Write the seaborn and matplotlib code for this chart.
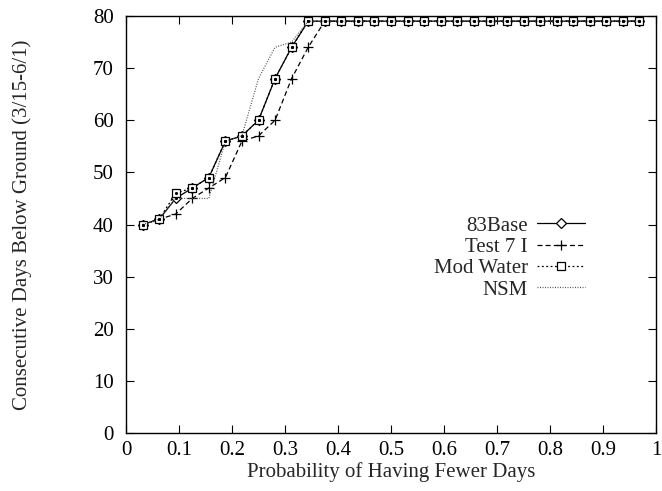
import matplotlib
matplotlib.use("Agg")
import matplotlib.pyplot as plt
from matplotlib.ticker import FixedLocator, FuncFormatter
import seaborn as sns
import pandas as pd

prob = [0.03125, 0.0625, 0.09375, 0.125, 0.15625, 0.1875, 0.21875, 0.25,
        0.28125, 0.3125, 0.34375, 0.375, 0.40625, 0.4375, 0.46875, 0.5,
        0.53125, 0.5625, 0.59375, 0.625, 0.65625, 0.6875, 0.71875, 0.75,
        0.78125, 0.8125, 0.84375, 0.875, 0.90625, 0.9375, 0.96875]

base83 = [40, 41, 45, 47, 49, 56, 57, 60, 68, 74, 79, 79, 79, 79, 79, 79,
          79, 79, 79, 79, 79, 79, 79, 79, 79, 79, 79, 79, 79, 79, 79]
test7i = [40, 41, 42, 45, 47, 49, 56, 57, 60, 68, 74, 79, 79, 79, 79, 79,
          79, 79, 79, 79, 79, 79, 79, 79, 79, 79, 79, 79, 79, 79, 79]
modwater = [40, 41, 46, 47, 49, 56, 57, 60, 68, 74, 79, 79, 79, 79, 79, 79,
            79, 79, 79, 79, 79, 79, 79, 79, 79, 79, 79, 79, 79, 79, 79]
nsm = [40, 41, 45, 45, 45, 56, 57, 68, 74, 75, 79, 79, 79, 79, 79, 79,
       79, 79, 79, 79, 79, 79, 79, 79, 79, 79, 79, 79, 79, 79, 79]

series_names = ["83Base", "Test 7 I", "Mod Water", "NSM"]
xticks = [0, 0.1, 0.2, 0.3, 0.4, 0.5, 0.6, 0.7, 0.8, 0.9, 1]
yticks = [0, 10, 20, 30, 40, 50, 60, 70, 80]

sns.set_style("ticks")
plt.rcParams["font.family"] = ["Liberation Serif", "DejaVu Serif"]

FS = 15

fig = plt.figure(figsize=(6.62, 4.91), dpi=100)
ax = fig.add_axes([126 / 662, 1 - 433 / 491, 530 / 662, 417 / 491])

styles = {
    "83Base": dict(ls="-", marker="D", ms=4.6, mfc="white", mec="black", color="black"),
    "Test 7 I": dict(ls=(0, (4, 2.5)), marker="+", ms=6.5, mec="black", color="black"),
    "Mod Water": dict(ls=(0, (1.5, 2)), marker="s", ms=5.5, mfc="white", mec="black", color="black"),
    "NSM": dict(ls=(0, (0.8, 1.2)), marker=None, color="#555555"),
}
data = {"83Base": base83, "Test 7 I": test7i, "Mod Water": modwater, "NSM": nsm}

for name in series_names:
    df = pd.DataFrame({"prob": prob, "days": data[name]})
    st = styles[name]
    kw = dict(linestyle=st["ls"], color=st["color"], linewidth=0.9)
    if st["marker"]:
        kw.update(marker=st["marker"], markersize=st["ms"], markeredgecolor=st["mec"],
                  markeredgewidth=0.9)
        if "mfc" in st:
            kw["markerfacecolor"] = st["mfc"]
    sns.lineplot(data=df, x="prob", y="days", ax=ax, label=name, **kw)

# small dot inside markers (gnuplot style)
for name in ["83Base", "Mod Water"]:
    ax.plot(prob, data[name], ls="none", marker=".", ms=2.5, color="black")

ax.set_xlim(0, 1)
ax.set_ylim(0, 80)
ax.xaxis.set_major_locator(FixedLocator(xticks))
ax.yaxis.set_major_locator(FixedLocator(yticks))
ax.xaxis.set_major_formatter(FuncFormatter(lambda v, p: f"{v:g}"))
ax.tick_params(direction="in", length=6, width=0.8, top=True, right=True,
               labelsize=FS, colors="black")
ax.tick_params(axis="x", pad=6)
ax.tick_params(axis="y", pad=9)
for s in ax.spines.values():
    s.set_visible(True)
    s.set_linewidth(1.0)
    s.set_color("black")

ax.set_xlabel("Probability of Having Fewer Days", fontsize=FS)
ax.set_ylabel("Consecutive Days Below Ground (3/15-6/1)", fontsize=FS)
ax.xaxis.set_label_coords(0.5, -0.07)
ax.yaxis.set_label_coords(-0.178, 0.5)

leg = ax.legend(loc="center right", bbox_to_anchor=(0.866, 0.42), frameon=False,
                markerfirst=False, fontsize=FS, handlelength=2.3, handletextpad=0.45,
                labelspacing=0.08, borderaxespad=0, borderpad=0)

fig.savefig("out.png", dpi=100)
